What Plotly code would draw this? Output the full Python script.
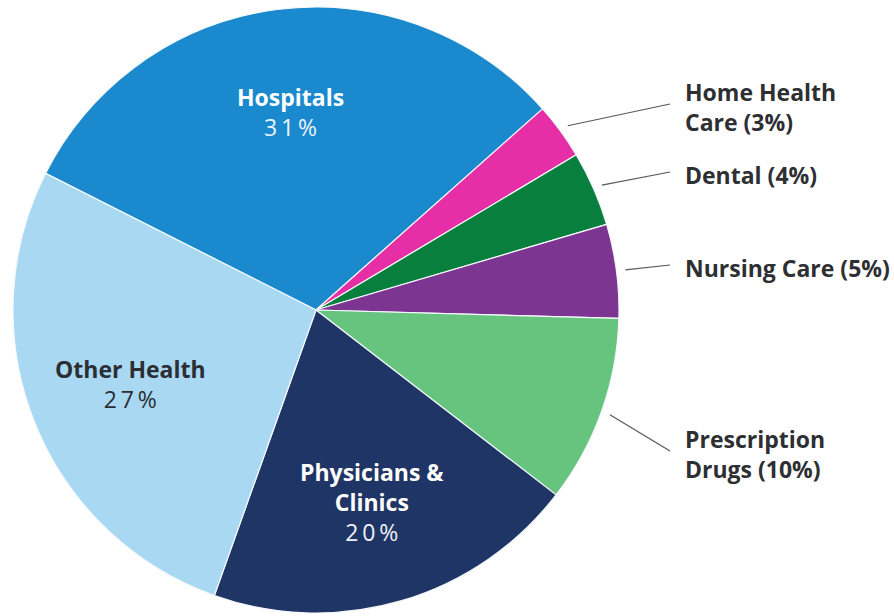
import math
import plotly.graph_objects as go

# ---- data ----
labels = ["Hospitals", "Home Health Care", "Dental", "Nursing Care",
          "Prescription Drugs", "Physicians & Clinics", "Other Health"]
values = [31, 3, 4, 5, 10, 20, 27]
colors = ["#1a89cd", "#e62fa6", "#087f3c", "#7d3592",
          "#66c47f", "#1f3565", "#a9d8f2"]
inside_names = {"Hospitals": "Hospitals",
                "Physicians & Clinics": "Physicians &<br>Clinics",
                "Other Health": "Other Health"}
outside_names = {"Home Health Care": "Home Health<br>Care",
                 "Dental": "Dental",
                 "Nursing Care": "Nursing Care",
                 "Prescription Drugs": "Prescription<br>Drugs"}

# ---- layout geometry ----
W, H = 894, 616
CX, CY, R = 316, 310, 303
ROT = -63.2
label_x_px = 683
leader_end_x_px = 670
outside_label_y_px = {"Home Health Care": 107, "Dental": 175,
                      "Nursing Care": 268, "Prescription Drugs": 454}
inside_colors = {"Hospitals": ("#ffffff", "#eaf3fa"),
                 "Physicians & Clinics": ("#ffffff", "#eef0f6"),
                 "Other Health": ("#2b2e33", "#2b2e33")}
THIN = "\u2009"


def to_paper(px, py):
    return px / W, 1 - py / H


def polar(angle_deg, r):
    a = math.radians(angle_deg)
    return CX + r * math.sin(a), CY - r * math.cos(a)


fig = go.Figure(go.Pie(
    labels=labels, values=values, sort=False, direction="clockwise",
    rotation=ROT, marker=dict(colors=colors, line=dict(color="#f4f8fb", width=1.2)),
    textinfo="none", hoverinfo="skip", showlegend=False,
    domain=dict(x=[(CX - R) / W, (CX + R) / W],
                y=[1 - (CY + R) / H, 1 - (CY - R) / H]),
))

total = sum(values)
annotations, shapes = [], []
cum = 0
for lab, v in zip(labels, values):
    mid = ROT + 360 * (cum + v / 2) / total
    cum += v
    pct = f"{v}%"
    if lab in inside_names:
        px, py = polar(mid, 0.66 * R)
        x, y = to_paper(px, py)
        c_name, c_pct = inside_colors[lab]
        spaced = THIN.join(pct)
        annotations.append(dict(
            x=x, y=y, xref="paper", yref="paper", showarrow=False,
            xanchor="center", yanchor="middle", align="center",
            text=f"<b>{inside_names[lab]}</b><br><span style='color:{c_pct}'>{spaced}</span>",
            font=dict(family="Open Sans", size=23, color=c_name)))
    else:
        ly = outside_label_y_px[lab]
        x, y = to_paper(label_x_px, ly)
        annotations.append(dict(
            x=x, y=y, xref="paper", yref="paper", showarrow=False,
            xanchor="left", yanchor="middle", align="left",
            text=f"<b>{outside_names[lab]} ({pct})</b>",
            font=dict(family="Open Sans", size=23, color="#2d2f33")))
        sx, sy = polar(mid, R + 9)
        x0, y0 = to_paper(sx, sy)
        x1, y1 = to_paper(leader_end_x_px, ly - 3)
        shapes.append(dict(type="line", xref="paper", yref="paper",
                           x0=x0, y0=y0, x1=x1, y1=y1,
                           line=dict(color="#55585c", width=1.2)))

fig.update_layout(
    width=W, height=H, margin=dict(l=0, r=0, t=0, b=0),
    paper_bgcolor="white", plot_bgcolor="white",
    annotations=annotations, shapes=shapes,
)

fig.write_html("out.html", config={"displayModeBar": False},
               post_script="document.body.style.margin='0px';document.body.style.overflow='hidden';")
